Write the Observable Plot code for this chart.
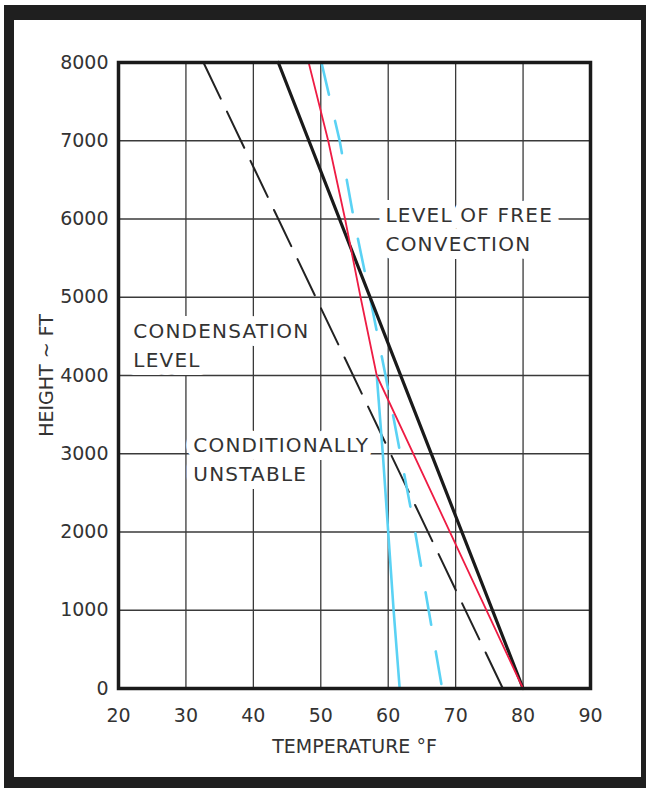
<!DOCTYPE html>
<html>
<head>
<meta charset="utf-8">
<script src="https://cdn.jsdelivr.net/npm/d3@7"></script>
<script src="https://cdn.jsdelivr.net/npm/@observablehq/plot@0.6"></script>
<style>
  html, body { margin: 0; padding: 0; background: #fff; }
  #wrap { position: relative; width: 650px; height: 788px; overflow: hidden; }
  #chart { position: absolute; left: 0; top: 0; }
  #border { position: absolute; left: 4px; top: 5px; width: 642px; height: 783px; box-sizing: border-box;
    border-style: solid; border-color: #1f1f1f; border-width: 15px 5px 11px 10px; pointer-events: none; }
  .ann text { letter-spacing: 1.2px; }
</style>
</head>
<body>
<div id="wrap"><div id="chart"></div><div id="border"></div></div>
<script>
// Tick values
const xTicks = [20, 30, 40, 50, 60, 70, 80, 90];
const yTicks = [0, 1000, 2000, 3000, 4000, 5000, 6000, 7000, 8000];

// Environment lapse rate (thick black solid)
const envHeight = [0, 8000];
const envTemp = [80, 43.7];

// Lifted parcel path (red)
const parcelHeight = [0, 4000, 5000, 6000, 7000, 8000];
const parcelTemp = [80, 58.3, 55.9, 53.6, 51.1, 48.2];

// Dry adiabat reference (black dashed)
const dryHeight = [8000, 0];
const dryTemp = [32.6, 77.0];

// Dew point line (cyan solid)
const dewHeight = [0, 1000, 2000, 3000, 4000];
const dewTemp = [61.7, 60.8, 60.0, 59.2, 58.3];

// Moist adiabat reference (cyan dashed)
const moistHeight = [8000, 7000, 6000, 5000, 4000, 3000, 2000, 1000, 0];
const moistTemp = [50.1, 52.8, 54.9, 57.3, 59.6, 61.8, 64.0, 66.0, 68.0];

// Annotations
const labelText = ["CONDENSATION\nLEVEL", "CONDITIONALLY\nUNSTABLE", "LEVEL OF FREE\nCONVECTION"];
const labelTemp = [22.2, 31.1, 59.6];
const labelHeight = [4415, 2952, 5898];

const xLabel = "TEMPERATURE °F";
const yLabel = "HEIGHT ~ FT";

const toRows = (xs, ys) => xs.map((t, i) => ({t, h: ys[i]}));
const env = toRows(envTemp, envHeight);
const parcel = toRows(parcelTemp, parcelHeight);
const dry = toRows(dryTemp, dryHeight);
const dew = toRows(dewTemp, dewHeight);
const moist = toRows(moistTemp, moistHeight);
const labels = labelText.map((s, i) => ({s, t: labelTemp[i], h: labelHeight[i]}));

const FONT = "DejaVu Sans";
const INK = "#333";

const chart = Plot.plot({
  width: 650,
  height: 788,
  marginLeft: 118,
  marginRight: 60,
  marginTop: 62,
  marginBottom: 100,
  style: {fontFamily: FONT, fontSize: "19px", color: INK, background: "transparent"},
  x: {domain: [20, 90]},
  y: {domain: [0, 8000]},
  marks: [
    Plot.gridX(xTicks, {stroke: "#3a3a3a", strokeOpacity: 1, strokeWidth: 1.3}),
    Plot.gridY(yTicks, {stroke: "#3a3a3a", strokeOpacity: 1, strokeWidth: 1.3}),
    Plot.axisX({ticks: xTicks, tickSize: 0, tickPadding: 20, label: null, fontSize: 19, fill: INK, tickFormat: d => String(d)}),
    Plot.axisY({ticks: yTicks, tickSize: 0, tickPadding: 10, label: null, fontSize: 19, fill: INK, tickFormat: d => String(d)}),
    Plot.text(labels, {x: "t", y: "h", text: "s", textAnchor: "start", lineAnchor: "middle", lineHeight: 1.45,
      fontSize: 20, fontFamily: FONT, fill: INK, stroke: "white", strokeWidth: 16, strokeLinejoin: "round", className: "ann"}),
    Plot.text([xLabel], {frameAnchor: "bottom", dy: 64, fontSize: 19, fontFamily: FONT, fill: INK}),
    Plot.text([yLabel], {frameAnchor: "left", dx: -72, textAnchor: "middle", rotate: -90, fontSize: 19, fontFamily: FONT, fill: INK}),
    Plot.line(dry, {x: "t", y: "h", stroke: "#222", strokeWidth: 2, strokeDasharray: "40,14.5"}),
    Plot.line(moist, {x: "t", y: "h", stroke: "#5ad2f4", strokeWidth: 2.6, strokeDasharray: "33,27"}),
    Plot.line(dew, {x: "t", y: "h", stroke: "#5ad2f4", strokeWidth: 2.6}),
    Plot.line(env, {x: "t", y: "h", stroke: "#1a1a1a", strokeWidth: 3.2}),
    Plot.line(parcel, {x: "t", y: "h", stroke: "#ee1c44", strokeWidth: 1.8}),
    Plot.frame({stroke: "#1a1a1a", strokeWidth: 3.5})
  ]
});
document.getElementById("chart").appendChild(chart);
</script>
</body>
</html>
